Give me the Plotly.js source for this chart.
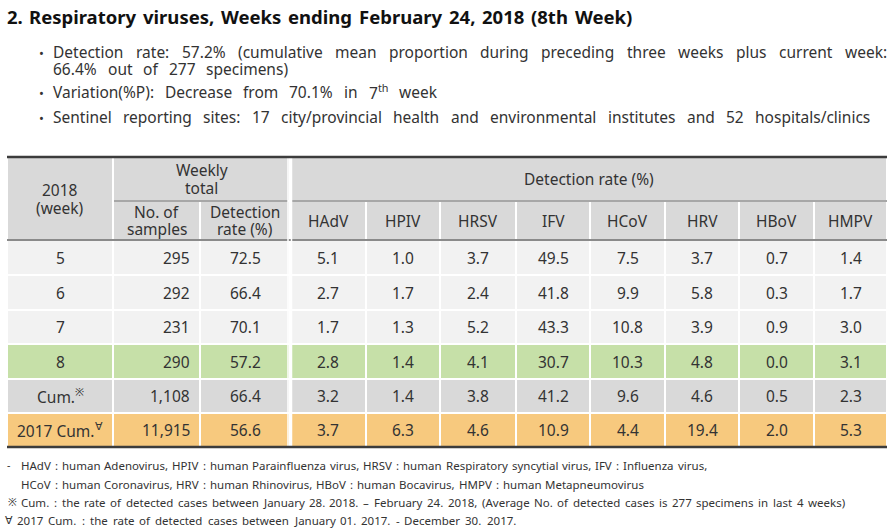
<!DOCTYPE html>
<html><head><meta charset="utf-8">
<script src="https://cdn.plot.ly/plotly-3.0.1.min.js"></script>
<style>body{margin:0;background:#fff}#c{width:893px;height:532px}</style>
</head><body><div id="c"></div>
<script>
// ---------- data ----------
const rowLabels = ['5','6','7','8','Cum.<sup>※</sup>','2017 Cum.<sup>∀</sup>'];
const samples = [295, 292, 231, 290, 1108, 11915];
const detectionRate = [72.5, 66.4, 70.1, 57.2, 66.4, 56.6];
const viruses = ['HAdV','HPIV','HRSV','IFV','HCoV','HRV','HBoV','HMPV'];
const HAdV = [5.1, 2.7, 1.7, 2.8, 3.2, 3.7];
const HPIV = [1.0, 1.7, 1.3, 1.4, 1.4, 6.3];
const HRSV = [3.7, 2.4, 5.2, 4.1, 3.8, 4.6];
const IFV  = [49.5, 41.8, 43.3, 30.7, 41.2, 10.9];
const HCoV = [7.5, 9.9, 10.8, 10.3, 9.6, 4.4];
const HRV  = [3.7, 5.8, 3.9, 4.8, 4.6, 19.4];
const HBoV = [0.7, 0.3, 0.9, 0.0, 0.5, 2.0];
const HMPV = [1.4, 1.7, 3.0, 3.1, 2.3, 5.3];
const virusValues = [HAdV, HPIV, HRSV, IFV, HCoV, HRV, HBoV, HMPV];

const titleText = '2. Respiratory viruses, Weeks ending February 24, 2018 (8th Week)';
const bullets = [
  ['Detection rate: 57.2% (cumulative mean proportion during preceding three weeks plus current week:', '66.4% out of 277 specimens)'],
  ['Variation(%P): Decrease from 70.1% in 7<sup>th</sup> week'],
  ['Sentinel reporting sites: 17 city/provincial health and environmental institutes and 52 hospitals/clinics']
];
const footMarks = ['-', '', '※', '∀'];
const footnotes = [
  'HAdV : human Adenovirus, HPIV : human Parainfluenza virus, HRSV : human Respiratory syncytial virus, IFV : Influenza virus,',
  'HCoV : human Coronavirus, HRV : human Rhinovirus, HBoV : human Bocavirus, HMPV : human Metapneumovirus',
  'Cum. : the rate of detected cases between January 28. 2018. – February 24. 2018, (Average No. of detected cases is 277 specimens in last 4 weeks)',
  '2017 Cum. : the rate of detected cases between January 01. 2017. - December 30. 2017.'
];

// ---------- layout / style ----------
const FONT = 'Noto Sans';
const TXT = '#333333';
const colEdges = [7,113,200,290,366,440,516,590,665,739,814,887];
const rowEdges = [157,201,240,275,310,344,379,413,447];
const headerBg = '#d9d9d9';
const rowBg = ['#f2f2f2','#f2f2f2','#f2f2f2','#c6e0a8','#d9d9d9','#f7c97e'];

const shapes = [];
const ann = [];
function rect(x0,x1,y0,y1,fill){
  shapes.push({type:'rect',xref:'x',yref:'y',x0,x1,y0,y1,fillcolor:fill,line:{color:'#ffffff',width:2},layer:'below'});
}
function line(x0,y0,x1,y1,color,width){
  shapes.push({type:'line',xref:'x',yref:'y',x0,y0,x1,y1,line:{color,width}});
}
function text(x,y,t,opts){
  opts = opts||{};
  ann.push({xref:'x',yref:'y',x,y,text:t,showarrow:false,xanchor:opts.xa||'center',yanchor:'middle',
    borderpad:0,borderwidth:0,
    font:{family:FONT,size:opts.size||15.5,color:opts.color||TXT,weight:opts.weight||'normal'}});
}
function multi(x,y,t,gap,opts){
  const parts = t.split('<br>');
  const n = parts.length;
  parts.forEach((p,i)=>text(x, y+(i-(n-1)/2)*gap, p, opts));
}
// word-by-word placement (reference uses wide / justified word spacing)
const ctx = document.createElement('canvas').getContext('2d');
function measure(w,size,weight){
  ctx.font = (weight==='bold'?'bold ':'')+size+'px "'+FONT+'"';
  const m = w.match(/^(.*?)<sup>(.*)<\/sup>(.*)$/);
  if(m){
    const base = ctx.measureText(m[1]+m[3]).width;
    ctx.font = (weight==='bold'?'bold ':'')+(size*0.7)+'px "'+FONT+'"';
    return base + ctx.measureText(m[2]).width;
  }
  return ctx.measureText(w).width;
}
function spread(x0,x1,y,t,opts){
  const words = t.split(' ');
  const widths = words.map(w=>measure(w,opts.size,opts.weight));
  const total = widths.reduce((a,b)=>a+b,0);
  const gap = words.length>1 ? (x1-x0-total)/(words.length-1) : 0;
  let x = x0;
  words.forEach((w,i)=>{ text(x,y,w,Object.assign({xa:'left'},opts)); x += widths[i]+gap; });
}
const cx = i => (colEdges[i]+colEdges[i+1])/2;
const cy = j => (rowEdges[j]+rowEdges[j+1])/2;

// header cells
rect(colEdges[0],colEdges[1],rowEdges[0],rowEdges[2],headerBg);
rect(colEdges[1],colEdges[3],rowEdges[0],rowEdges[1],headerBg);
rect(colEdges[1],colEdges[2],rowEdges[1],rowEdges[2],headerBg);
rect(colEdges[2],colEdges[3],rowEdges[1],rowEdges[2],headerBg);
rect(colEdges[3],colEdges[11],rowEdges[0],rowEdges[1],headerBg);
viruses.forEach((v,i)=>rect(colEdges[3+i],colEdges[4+i],rowEdges[1],rowEdges[2],headerBg));

multi(cx(0),(rowEdges[0]+rowEdges[2])/2,'2018<br>(week)',18);
multi((colEdges[1]+colEdges[3])/2,cy(0),'Weekly<br>total',17.5);
multi(cx(1),cy(1),'No. of<br>samples',17.5);
multi(cx(2),cy(1),'Detection<br>rate (%)',17.5);
text((colEdges[3]+colEdges[11])/2,cy(0),'Detection rate (%)');
viruses.forEach((v,i)=>text(cx(3+i),cy(1),v));

// body cells
rowLabels.forEach((lab,j)=>{
  const r = j+2;
  for(let c=0;c<11;c++) rect(colEdges[c],colEdges[c+1],rowEdges[r],rowEdges[r+1],rowBg[j]);
  text(cx(0),cy(r),lab);
  text(colEdges[2]-10,cy(r),samples[j].toLocaleString('en-US'),{xa:'right'});
  text(cx(2),cy(r),detectionRate[j].toFixed(1));
  virusValues.forEach((vals,i)=>text(cx(3+i),cy(r),vals[j].toFixed(1)));
});

// rules
line(colEdges[1]+1,rowEdges[1],colEdges[3]-2,rowEdges[1],'#8a8a8a',1.5);
line(colEdges[3]+2,rowEdges[1],colEdges[11],rowEdges[1],'#8a8a8a',1.5);
line(colEdges[0],rowEdges[2],colEdges[11],rowEdges[2],'#8a8a8a',2);
line(colEdges[3]-2,rowEdges[0],colEdges[3]-2,rowEdges[8],'#ffffff',1.5);
line(colEdges[3]+1.5,rowEdges[0],colEdges[3]+1.5,rowEdges[8],'#ffffff',1.5);
line(colEdges[0],rowEdges[0],colEdges[11],rowEdges[0],'#3c3c3c',2.5);
line(colEdges[0],rowEdges[8],colEdges[11],rowEdges[8],'#3c3c3c',2.5);

// title & bullets
spread(7,632,16,titleText,{size:18.5,weight:'bold',color:'#111'});
const bulletY = [[52,69],[92],[117]];
const bulletEnds = [[887,288],[437],[870]];
bullets.forEach((b,i)=>{
  text(41,bulletY[i][0]+1,'•',{xa:'center',size:13});
  b.forEach((l,k)=>spread(53,bulletEnds[i][k],bulletY[i][k],l,{size:15.5}));
});

// footnotes
const footY = [465,484,502,520];
const footX = [21,21,21,17];
const footEnd = [707,644,845,516];
const markX = [8,0,12,9];
footnotes.forEach((f,i)=>{
  if(footMarks[i]) text(markX[i],footY[i],footMarks[i],{xa:'center',size:10.5});
  spread(footX[i],footEnd[i],footY[i],f,{size:11.5});
});

const layout = {
  width:893,height:532,margin:{l:0,r:0,t:0,b:0},
  paper_bgcolor:'#ffffff',plot_bgcolor:'#ffffff',showlegend:false,
  xaxis:{range:[0,893],visible:false,fixedrange:true},
  yaxis:{range:[532,0],visible:false,fixedrange:true},
  shapes:shapes,annotations:ann
};
Plotly.newPlot('c',[{x:[],y:[],type:'scatter',mode:'markers',hoverinfo:'skip'}],layout,{staticPlot:true,displayModeBar:false});
</script></body></html>
